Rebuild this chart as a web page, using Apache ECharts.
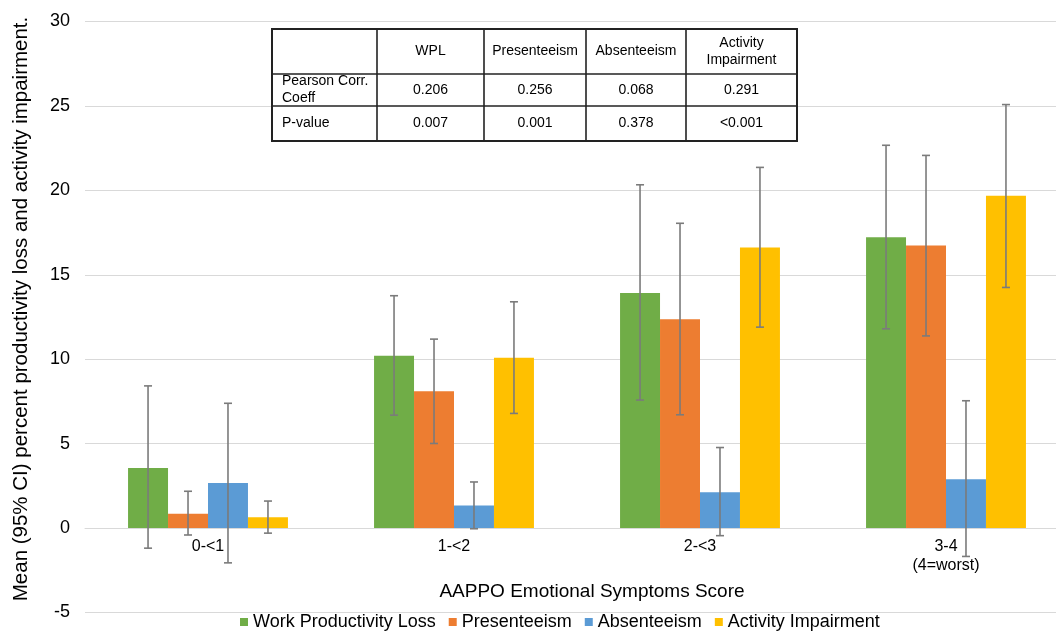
<!DOCTYPE html>
<html><head><meta charset="utf-8">
<script src="https://cdn.jsdelivr.net/npm/echarts@6/dist/echarts.min.js"></script>
<style>html,body{margin:0;padding:0;background:#fff}#c{width:1056px;height:632px}</style>
</head><body><div id="c"></div>
<script>
// ---- data ----
const categories = ['0-<1', '1-<2', '2-<3', '3-4\n(4=worst)'];
const seriesNames = ['Work Productivity Loss', 'Presenteeism', 'Absenteeism', 'Activity Impairment'];
const wplMean = [3.56, 10.21, 13.92, 17.22];
const presMean = [0.85, 8.10, 12.37, 16.73];
const absMean = [2.67, 1.33, 2.12, 2.89];
const actMean = [0.64, 10.08, 16.61, 19.68];
const wplLow = [-1.19, 6.69, 7.58, 11.80];
const wplHigh = [8.42, 13.76, 20.33, 22.67];
const presLow = [-0.41, 5.01, 6.71, 11.38];
const presHigh = [2.18, 11.19, 18.05, 22.07];
const absLow = [-2.06, -0.04, -0.45, -1.68];
const absHigh = [7.39, 2.73, 4.77, 7.54];
const actLow = [-0.30, 6.79, 11.90, 14.25];
const actHigh = [1.60, 13.40, 21.36, 25.08];
const yTicks = [-5, 0, 5, 10, 15, 20, 25, 30];
const tableHeader = ['', 'WPL', 'Presenteeism', 'Absenteeism', 'Activity\nImpairment'];
const tableRowLabels = ['Pearson Corr.\nCoeff', 'P-value'];
const pearsonCoeff = ['0.206', '0.256', '0.068', '0.291'];
const pValues = ['0.007', '0.001', '0.378', '<0.001'];
const xAxisTitle = 'AAPPO Emotional Symptoms Score';
const yAxisTitle = 'Mean (95% CI) percent productivity loss and activity impairment.';

// ---- style ----
const FONT = '"Liberation Sans", Arial, sans-serif';
const colors = ['#70AD47', '#ED7D31', '#5B9BD5', '#FFC000'];
const means = [wplMean, presMean, absMean, actMean];
const lows = [wplLow, presLow, absLow, actLow];
const highs = [wplHigh, presHigh, absHigh, actHigh];
const GAP = 0.35;

const chart = echarts.init(document.getElementById('c'), null, {renderer: 'canvas'});

const barSeries = seriesNames.map((n, i) => ({
  name: n, type: 'bar', data: means[i],
  barGap: '0%', barCategoryGap: (GAP * 100) + '%',
  itemStyle: {color: colors[i]}, z: 2
}));

const errSeries = seriesNames.map((n, idx) => ({
  name: n + ' CI', type: 'custom', z: 10, silent: true,
  data: lows[idx].map((l, i) => [i, l, highs[idx][i]]),
  encode: {x: 0, y: [1, 2]},
  renderItem: function (params, api) {
    const c = api.value(0);
    const lo = api.coord([c, api.value(1)]);
    const hi = api.coord([c, api.value(2)]);
    const band = api.size([1, 0])[0];
    const bw = band * (1 - GAP) / 4;
    const x = lo[0] + (idx - 1.5) * bw;
    const cap = 4;
    const st = {stroke: '#7b7b7b', lineWidth: 1.6};
    return {type: 'group', children: [
      {type: 'line', shape: {x1: x, y1: lo[1], x2: x, y2: hi[1]}, style: st},
      {type: 'line', shape: {x1: x - cap, y1: lo[1], x2: x + cap, y2: lo[1]}, style: st},
      {type: 'line', shape: {x1: x - cap, y1: hi[1], x2: x + cap, y2: hi[1]}, style: st}
    ]};
  }
}));

// table graphic
const colX = [272, 377, 484, 586, 686, 797];
const rowY = [29, 74, 106, 141];
const tableEls = [];
tableEls.push({type: 'rect', shape: {x: colX[0], y: rowY[0], width: colX[5] - colX[0], height: rowY[3] - rowY[0]},
  style: {fill: '#fff', stroke: '#222', lineWidth: 2}, z: 100});
for (let i = 1; i < colX.length - 1; i++) {
  tableEls.push({type: 'line', shape: {x1: colX[i], y1: rowY[0], x2: colX[i], y2: rowY[3]}, style: {stroke: '#222', lineWidth: 1.6}, z: 101});
}
for (let j = 1; j < rowY.length - 1; j++) {
  tableEls.push({type: 'line', shape: {x1: colX[0], y1: rowY[j], x2: colX[5], y2: rowY[j]}, style: {stroke: '#222', lineWidth: 1.6}, z: 101});
}
const tfs = 14;
function cellText(txt, col, row, align) {
  const cx = align === 'left' ? colX[col] + 10 : (colX[col] + colX[col + 1]) / 2;
  const cy = (rowY[row] + rowY[row + 1]) / 2;
  tableEls.push({type: 'text', x: cx, y: cy, z: 102,
    style: {text: txt, fill: '#000', font: tfs + 'px ' + FONT, align: align === 'left' ? 'left' : 'center',
      verticalAlign: 'middle', lineHeight: 17}});
}
tableHeader.forEach((h, i) => { if (h) cellText(h, i, 0, 'center'); });
tableRowLabels.forEach((l, r) => cellText(l, 0, r + 1, 'left'));
pearsonCoeff.forEach((v, i) => cellText(v, i + 1, 1, 'center'));
pValues.forEach((v, i) => cellText(v, i + 1, 2, 'center'));

tableEls.push({type: 'text', x: 592, y: 592, z: 50,
  style: {text: xAxisTitle, fill: '#000', font: '19px ' + FONT, align: 'center', verticalAlign: 'middle'}});

chart.setOption({
  animation: false,
  textStyle: {fontFamily: FONT},
  grid: {left: 85, top: 21.5, width: 984, height: 591, containLabel: false, outerBoundsMode: 'none'},
  legend: {
    data: seriesNames, left: 240, top: 613, itemWidth: 8, itemHeight: 8, itemGap: 13,
    icon: 'rect', textStyle: {fontSize: 18, color: '#000', fontFamily: FONT}, padding: 0
  },
  xAxis: {
    type: 'category', data: categories,
    axisLine: {show: true, onZero: true, lineStyle: {color: '#d9d9d9', width: 1}},
    axisTick: {show: false},
    axisLabel: {interval: 0, fontSize: 16, color: '#000', margin: -75, lineHeight: 19, fontFamily: FONT},
    splitLine: {show: false}
  },
  yAxis: {
    type: 'value', min: yTicks[0], max: yTicks[yTicks.length - 1], interval: 5,
    name: yAxisTitle, nameLocation: 'middle', nameRotate: 90, nameGap: 53,
    nameTextStyle: {fontSize: 20.5, color: '#000', fontFamily: FONT, padding: [0, 0, 0, 16]},
    axisLine: {show: false}, axisTick: {show: false},
    axisLabel: {fontSize: 18, color: '#000', margin: 15, fontFamily: FONT},
    splitLine: {show: true, lineStyle: {color: '#d9d9d9', width: 1}}
  },
  graphic: tableEls,
  series: barSeries.concat(errSeries)
});
</script></body></html>
